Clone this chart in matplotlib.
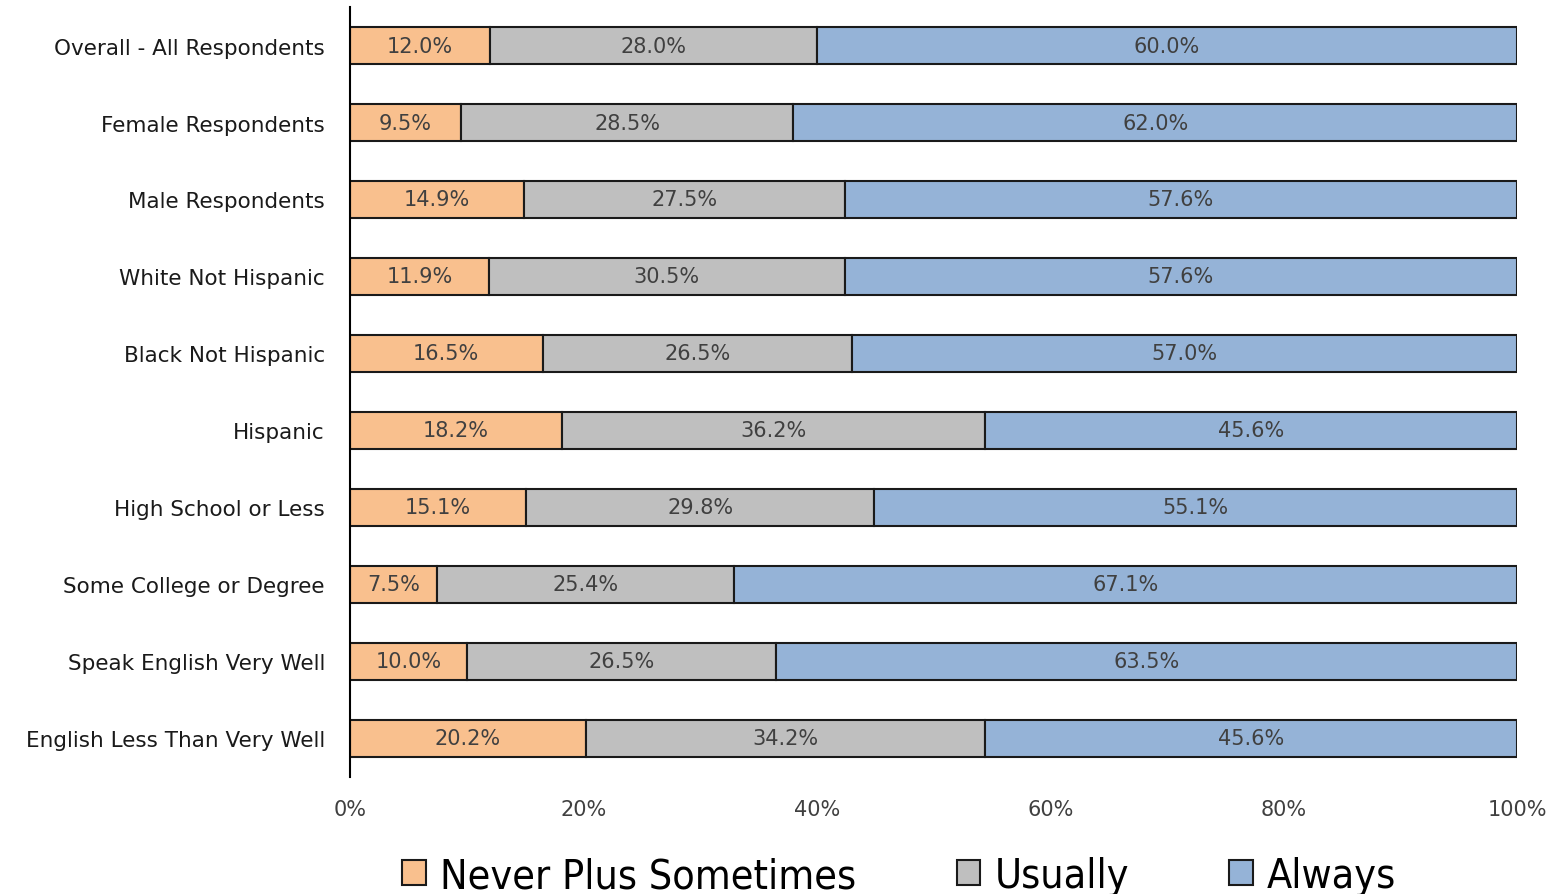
import matplotlib
matplotlib.use("Agg")
import matplotlib.pyplot as plt
from matplotlib.patches import Patch
import numpy as np

categories = ["Overall - All Respondents", "Female Respondents", "Male Respondents",
              "White Not Hispanic", "Black Not Hispanic", "Hispanic",
              "High School or Less", "Some College or Degree",
              "Speak English Very Well", "English Less Than Very Well"]
never_sometimes = [12.0, 9.5, 14.9, 11.9, 16.5, 18.2, 15.1, 7.5, 10.0, 20.2]
usually = [28.0, 28.5, 27.5, 30.5, 26.5, 36.2, 29.8, 25.4, 26.5, 34.2]
always = [60.0, 62.0, 57.6, 57.6, 57.0, 45.6, 55.1, 67.1, 63.5, 45.6]
series_names = ["Never Plus Sometimes", "Usually", "Always"]
colors = ["#F9C08E", "#BFBFBF", "#95B3D7"]

fig = plt.figure(figsize=(15.56, 8.95), dpi=100, facecolor='white')
ax = fig.add_axes([0.2249, 0.131, 0.7501, 0.86])

y = np.arange(len(categories))
left = np.zeros(len(categories))
for vals, col in zip([never_sometimes, usually, always], colors):
    vals = np.array(vals)
    ax.barh(y, vals, left=left, height=0.48, color=col,
            edgecolor='#1a1a1a', linewidth=1.5)
    for yi, l, v in zip(y, left, vals):
        ax.text(l + v / 2, yi, "%.1f%%" % v, ha='center', va='center',
                fontsize=15, color='#404040')
    left = left + vals

ax.set_xlim(0, 100)
ax.set_ylim(len(categories) - 0.5, -0.5)
ax.set_yticks(y)
ax.set_yticklabels(categories, fontsize=15.5, color='#1a1a1a')
ax.set_xticks([0, 20, 40, 60, 80, 100])
ax.set_xticklabels(["0%", "20%", "40%", "60%", "80%", "100%"], fontsize=15, color='#404040')
ax.tick_params(axis='both', length=0)
ax.tick_params(axis='y', pad=18)
ax.tick_params(axis='x', pad=16)
for s in ['top', 'right', 'bottom']:
    ax.spines[s].set_visible(False)
ax.spines['left'].set_color('black')
ax.spines['left'].set_linewidth(1.5)

handles = [Patch(facecolor=c, edgecolor='#1a1a1a', linewidth=1.5) for c in colors]
fig.legend(handles, series_names, loc='center', bbox_to_anchor=(0.578, 0.02),
           ncol=3, frameon=False,
           prop={'family': 'DejaVu Sans', 'stretch': 'condensed', 'size': 29.5},
           handlelength=0.58, handleheight=0.58,
           handletextpad=0.34, columnspacing=2.45)

fig.savefig("out.png", dpi=100, facecolor='white')
